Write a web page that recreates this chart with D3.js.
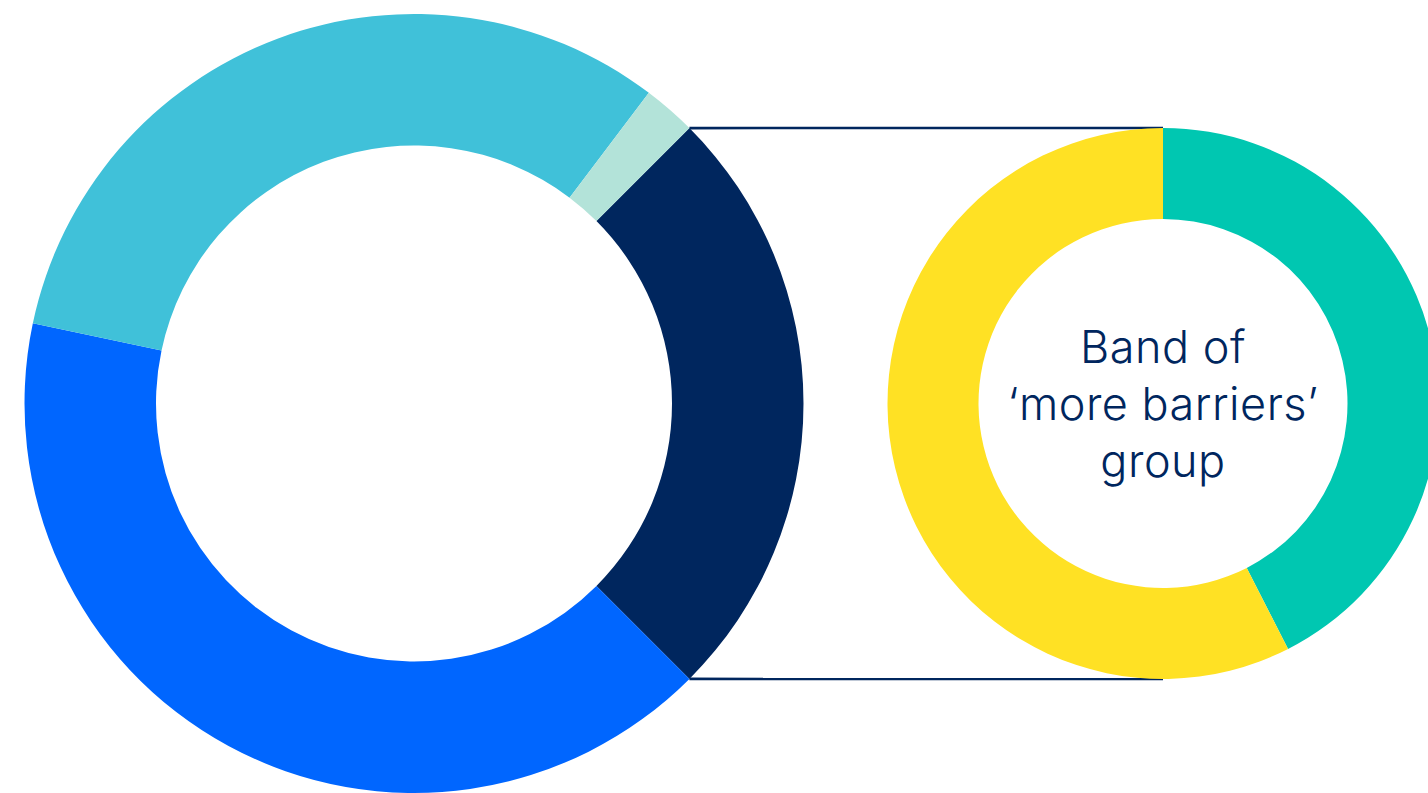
<!DOCTYPE html>
<html>
<head>
<meta charset="utf-8">
<script src="https://cdn.jsdelivr.net/npm/d3@7"></script>
<style>
  html, body { margin: 0; padding: 0; background: #ffffff; }
  svg { display: block; }
</style>
</head>
<body>
<svg id="chart" width="1428" height="793"></svg>
<script>
// Main ring: share of each band (percent), starting from the highlighted band
const mainBands = ["More barriers", "Band B", "Band C", "Band D"];
const mainShares = [25, 40.8, 32, 2.2];
const mainColors = ["#00265e", "#0066ff", "#40c1d9", "#b3e3d9"];

// Breakdown ring of the highlighted band (percent)
const detailParts = ["Part 1", "Part 2"];
const detailShares = [42.5, 57.5];
const detailColors = ["#00c7b1", "#ffe124"];

// Centre caption of the breakdown ring
const captionLines = ["Band of", "\u2018more barriers\u2019", "group"];

const svg = d3.select("#chart");

const main = { cx: 414, cy: 403.5, outer: 389.5, inner: 258 };
const detail = { cx: 1163, cy: 403.5, outer: 275.5, inner: 184.5 };

// Highlighted band is centred at 3 o'clock
const highlightSpan = (mainShares[0] / d3.sum(mainShares)) * 2 * Math.PI;
const mainStart = Math.PI / 2 - highlightSpan / 2;

const mainPie = d3.pie().sort(null).value(d => d)
  .startAngle(mainStart).endAngle(mainStart + 2 * Math.PI);
const mainArc = d3.arc().innerRadius(main.inner).outerRadius(main.outer);

const mainArcs = mainPie(mainShares);

// Connector lines from the highlighted band to the breakdown ring
const hl = mainArcs[0];
const pt = (a, r) => [Math.sin(a) * r, -Math.cos(a) * r];
const p0 = pt(hl.startAngle, main.outer);
const p1 = pt(hl.endAngle, main.outer);
const connectors = [
  [[main.cx + p0[0], main.cy + p0[1]], [detail.cx, detail.cy - detail.outer]],
  [[main.cx + p1[0], main.cy + p1[1]], [detail.cx, detail.cy + detail.outer]]
];
svg.append("g").selectAll("line").data(connectors).join("line")
  .attr("x1", d => d[0][0]).attr("y1", d => d[0][1])
  .attr("x2", d => d[1][0]).attr("y2", d => d[1][1])
  .attr("stroke", "#00265e").attr("stroke-width", 2.6);

svg.append("g").attr("transform", `translate(${main.cx},${main.cy})`)
  .selectAll("path").data(mainArcs).join("path")
  .attr("d", mainArc)
  .attr("fill", (d, i) => mainColors[i]);

const detailPie = d3.pie().sort(null).value(d => d);
const detailArc = d3.arc().innerRadius(detail.inner).outerRadius(detail.outer);

const dg = svg.append("g").attr("transform", `translate(${detail.cx},${detail.cy})`);
dg.selectAll("path").data(detailPie(detailShares)).join("path")
  .attr("d", detailArc)
  .attr("fill", (d, i) => detailColors[i]);

const lineGap = 57;
dg.append("g").selectAll("text").data(captionLines).join("text")
  .attr("x", 0)
  .attr("y", (d, i) => 16.5 + (i - 1) * lineGap)
  .attr("text-anchor", "middle")
  .attr("fill", "#00265e")
  .style("font-family", "Inter, 'Open Sans', sans-serif")
  .style("font-weight", 300)
  .style("font-size", "45px")
  .style("letter-spacing", "0.5px")
  .text(d => d);
</script>
</body>
</html>
